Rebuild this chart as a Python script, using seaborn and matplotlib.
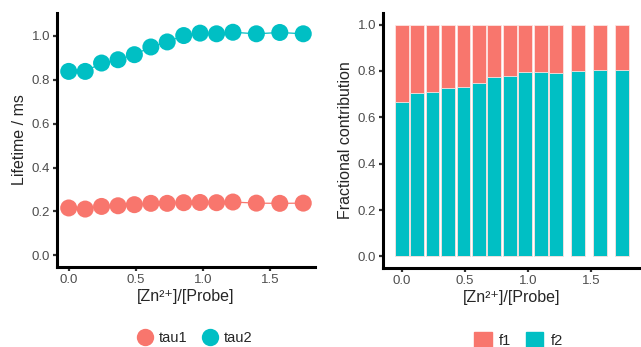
import matplotlib
matplotlib.use("Agg")
import matplotlib.pyplot as plt
from matplotlib.lines import Line2D
from matplotlib.patches import Patch
import pandas as pd
import seaborn as sns

# [Zn2+]/[Probe] ratios
RATIO = [0.0, 0.123, 0.245, 0.368, 0.49, 0.613, 0.735, 0.858, 0.98, 1.103, 1.225, 1.40, 1.575, 1.75]
TAU1 = [0.216, 0.211, 0.223, 0.226, 0.231, 0.237, 0.237, 0.240, 0.241, 0.240, 0.243, 0.238, 0.237, 0.238]
TAU2 = [0.837, 0.837, 0.875, 0.890, 0.913, 0.948, 0.971, 1.000, 1.011, 1.008, 1.015, 1.008, 1.014, 1.008]
F2 = [0.668, 0.706, 0.709, 0.727, 0.732, 0.747, 0.773, 0.778, 0.794, 0.794, 0.790, 0.798, 0.805, 0.804]
F1 = [1 - v for v in F2]

RED, TEAL = "#F8766D", "#00BFC4"
XTICKS = [0.0, 0.5, 1.0, 1.5]
YTICKS = [0.0, 0.2, 0.4, 0.6, 0.8, 1.0]
XLABEL = "[Zn²⁺]/[Probe]"

sns.set_theme(style="white")
plt.rcParams["font.family"] = ["Liberation Sans", "DejaVu Sans"]

lifetimes = pd.DataFrame({"ratio": RATIO * 2, "lifetime": TAU1 + TAU2,
                          "series": ["tau1"] * len(RATIO) + ["tau2"] * len(RATIO)})
fractions = pd.DataFrame({"ratio": RATIO, "f1": F1, "f2": F2})
fractions["total"] = fractions["f1"] + fractions["f2"]

fig = plt.figure(figsize=(6.41, 3.47), dpi=100)
ax1 = fig.add_axes([0.0889, 0.2305, 0.4025, 0.732])
ax2 = fig.add_axes([0.5975, 0.2277, 0.4025, 0.735])

palette = {"tau1": RED, "tau2": TEAL}
sns.lineplot(data=lifetimes, x="ratio", y="lifetime", hue="series", palette=palette,
             lw=0.9, legend=False, ax=ax1)
sns.scatterplot(data=lifetimes, x="ratio", y="lifetime", hue="series", palette=palette,
                s=150, linewidth=0, legend=False, ax=ax1, zorder=3)
ax1.set(xlim=(-0.0875, 1.8375), ylim=(-0.0525, 1.1025), xticks=XTICKS, yticks=YTICKS,
        xlabel=XLABEL, ylabel="Lifetime / ms")

sns.barplot(data=fractions, x="ratio", y="total", native_scale=True, width=0.9, color=RED,
            saturation=1, edgecolor="#fde4e2", linewidth=0.6, ax=ax2)
sns.barplot(data=fractions, x="ratio", y="f2", native_scale=True, width=0.9, color=TEAL,
            saturation=1, edgecolor="#fde4e2", linewidth=0.6, ax=ax2)
ax2.set(xlim=(-0.148, 1.898), ylim=(-0.05, 1.05), xticks=XTICKS, yticks=YTICKS,
        xlabel=XLABEL, ylabel="Fractional contribution")

for ax in (ax1, ax2):
    sns.despine(ax=ax)
    for side in ("left", "bottom"):
        ax.spines[side].set_linewidth(2.2)
        ax.spines[side].set_color("black")
    ax.set_xticklabels([f"{t:.1f}" for t in XTICKS])
    ax.set_yticklabels([f"{t:.1f}" for t in YTICKS])
    ax.tick_params(axis="both", length=3, width=1.6, color="#333333", labelcolor="#4D4D4D",
                   labelsize=9.5, pad=2, bottom=True, left=True)
    ax.xaxis.label.set_size(11.5)
    ax.yaxis.label.set_size(11.5)
    ax.xaxis.labelpad = 2
    ax.yaxis.labelpad = 3
    ax.grid(False)

circle = dict(marker="o", linestyle="", markersize=12.5, markeredgewidth=0)
fig.legend(handles=[Line2D([], [], color=RED, **circle), Line2D([], [], color=TEAL, **circle)],
           labels=["tau1", "tau2"], loc="center", bbox_to_anchor=(0.302, 0.026), ncol=2,
           frameon=False, fontsize=10.5, handletextpad=0.3, columnspacing=0.8, handlelength=1.4)
fig.legend(handles=[Patch(color=RED), Patch(color=TEAL)], labels=["f1", "f2"], loc="center",
           bbox_to_anchor=(0.809, 0.02), ncol=2, frameon=False, fontsize=10.5,
           handletextpad=0.5, columnspacing=1.0, handlelength=1.2, handleheight=1.2)

fig.savefig("out.png", dpi=100)
plt.close(fig)
